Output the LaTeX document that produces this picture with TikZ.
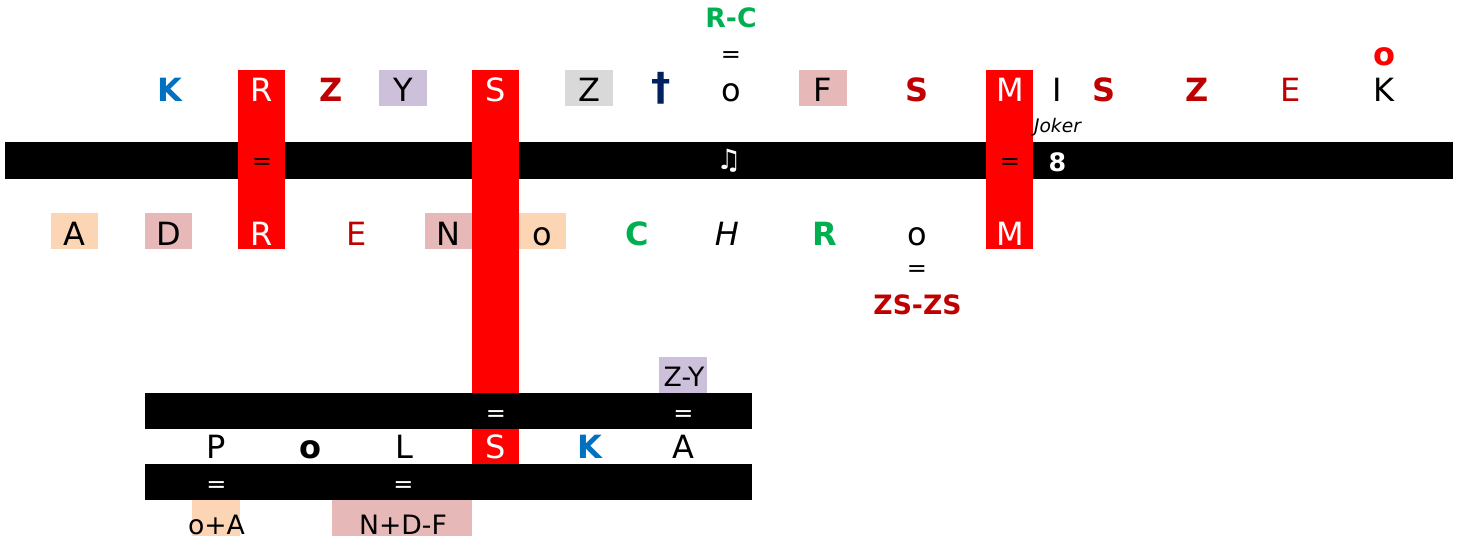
\documentclass[tikz,border=0pt]{standalone}
\usepackage{fontspec}
\setmainfont{DejaVu Sans}

\definecolor{cellred}{HTML}{FF0000}
\definecolor{darkred}{HTML}{C00000}
\definecolor{cellblue}{HTML}{0070C0}
\definecolor{cellgreen}{HTML}{00B050}
\definecolor{daggerblue}{HTML}{002060}
\definecolor{lavender}{HTML}{CCC0DA}
\definecolor{cellgray}{HTML}{D9D9D9}
\definecolor{rosebox}{HTML}{E6B8B7}
\definecolor{peach}{HTML}{FCD5B4}

\begin{document}
\begin{tikzpicture}[x=0.75pt, y=-0.75pt,
        lt/.style={inner sep=0pt, anchor=base, font=\fontsize{24}{28}\selectfont},
        bt/.style={inner sep=0pt, anchor=base, font=\fontsize{24}{28}\selectfont\bfseries},
        st/.style={inner sep=0pt, anchor=base, font=\fontsize{20}{24}\selectfont},
        eq/.style={inner sep=0pt, font=\fontsize{18}{20}\selectfont}]

                \useasboundingbox (0,0) rectangle (1457,544);

                %----- BLACK BARS -----
                \fill (5,142) rectangle (1453,179);
                \fill (145,393) rectangle (752,429);
                \fill (145,464) rectangle (752,500);

                %----- RED COLUMNS -----
                \fill[cellred] (238,70) rectangle (285,249);
                \fill[cellred] (472,70) rectangle (519,393);
                \fill[cellred] (472,429) rectangle (519,464);
                \fill[cellred] (986,70) rectangle (1033,249);

                %----- COLOURED CELLS -----
                \fill[lavender] (379,70) rectangle (427,106);
                \fill[cellgray] (565,70) rectangle (613,106);
                \fill[rosebox] (799,70) rectangle (847,106);
                \fill[peach] (51,213) rectangle (98,249);
                \fill[rosebox] (145,213) rectangle (192,249);
                \fill[rosebox] (425,213) rectangle (472,249);
                \fill[peach] (519,213) rectangle (566,249);
                \fill[lavender] (659,357) rectangle (707,393);
                \fill[peach] (192,500) rectangle (240,536);
                \fill[rosebox] (332,500) rectangle (472,536);

                %----- TOP LINE -----
                \node[bt, cellgreen, font=\fontsize{20}{24}\selectfont\bfseries] (rc) at (731,27.5) {R-C};
                \node[eq] (eqrc) at (731,57) {=};
                \node[bt, cellred] (otop) at (1384,65) {o};

                % first name
                \node[bt, cellblue] (k1) at (170,101.5) {K};
                \node[lt, white] (r1) at (262,101.5) {R};
                \node[bt, darkred] (z1) at (331,101.5) {Z};
                \node[lt] (y1) at (403,101.5) {Y};
                \node[lt, white] (s1) at (496,101.5) {S};
                \node[lt] (z2) at (589,101.5) {Z};
                \node[inner sep=0pt, daggerblue, font=\fontsize{29}{32}\selectfont\bfseries] (dag) at (661,88) {†};
                \node[lt] (o1) at (731,101.5) {o};
                \node[lt] (f1) at (823,101.5) {F};

                % surname
                \node[bt, darkred] (s2) at (917,101.5) {S};
                \node[lt, white] (m1) at (1010,101.5) {M};
                \node[lt] (i1) at (1057,101.5) {I};
                \node[bt, darkred] (s3) at (1104,101.5) {S};
                \node[bt, darkred] (z3) at (1197,101.5) {Z};
                \node[lt, darkred] (e1) at (1291,101.5) {E};
                \node[lt] (k2) at (1384,101.5) {K};
                \node[lt, font=\fontsize{14}{16}\selectfont\itshape] (joker) at (1057.5,132.5) {Joker};

                %----- FIRST BAR -----
                \node[eq] (eqr) at (262,164) {=};
                \node[inner sep=0pt, white, font=\fontsize{21}{24}\selectfont] (note) at (729,160.5) {♫};
                \node[eq] (eqm) at (1010,164) {=};
                \node[bt, white, font=\fontsize{19}{22}\selectfont\bfseries] (eight) at (1057.5,171) {8};

                %----- MIDDLE LINE -----
                \node[lt] (a1) at (74.5,245) {A};
                \node[lt] (d1) at (168.5,245) {D};
                \node[lt, white] (r2) at (262,245) {R};
                \node[lt, darkred] (e2) at (357,245) {E};
                \node[lt] (n1) at (448.5,245) {N};
                \node[lt] (o2) at (542.5,245) {o};
                \node[bt, cellgreen] (c1) at (637,245) {C};
                \node[lt, font=\fontsize{24}{28}\selectfont\itshape] (h1) at (727,245) {H};
                \node[bt, cellgreen] (r3) at (825,245) {R};
                \node[lt] (o3) at (917,245) {o};
                \node[lt, white] (m2) at (1010,245) {M};
                \node[eq] (eqzs) at (917,271.5) {=};
                \node[bt, darkred, font=\fontsize{20}{24}\selectfont\bfseries] (zs) at (917.5,314) {ZS-ZS};

                %----- BOTTOM WORD -----
                \node[st] (zy) at (684,386) {Z-Y};
                \node[eq, white] (eqs) at (496,416) {=};
                \node[eq, white] (eqa) at (683.5,416) {=};

                \node[lt] (p1) at (216.5,458) {P};
                \node[bt] (o4) at (310,458) {o};
                \node[lt] (l1) at (404,458) {L};
                \node[lt, white] (s4) at (496,458) {S};
                \node[bt, cellblue] (k3) at (590,458) {K};
                \node[lt] (a2) at (683,458) {A};

                \node[eq, white] (eqp) at (216.5,487) {=};
                \node[eq, white] (eql) at (403.5,487) {=};
                \node[st] (oa) at (216.5,534) {o+A};
                \node[st] (ndf) at (403,534) {N+D-F};

\end{tikzpicture}
\end{document}
